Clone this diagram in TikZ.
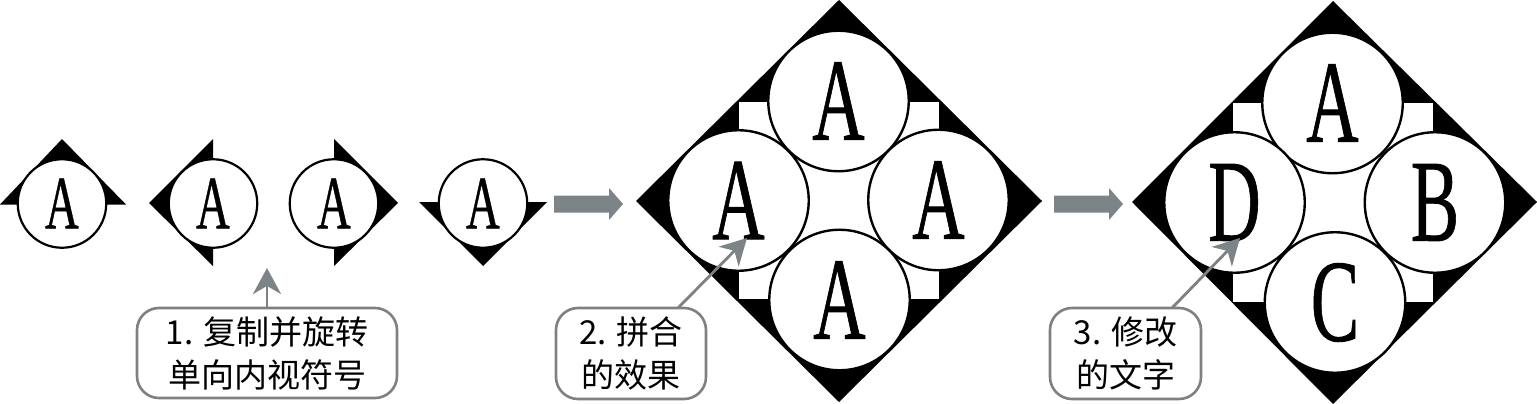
\documentclass[tikz,border=0pt]{standalone}
\usepackage{graphicx}
\usepackage{fontspec}
\setmainfont{Liberation Serif}
\newfontfamily\cjk{Noto Sans CJK SC}
\newfontfamily\letterfont[FakeBold=0.8]{Liberation Serif}
\usetikzlibrary{arrows.meta}
\newcommand{\narrow}[1]{\scalebox{.62}[1]{\letterfont #1}}
\newcommand{\calltext}[1]{\raisebox{-3pt}{#1}}
\definecolor{callgray}{HTML}{808080}
\definecolor{arrowgray}{HTML}{7C8488}
\tikzset{
  x=1pt,y=-1pt,
  smallcirc/.style={circle,draw=black,fill=white,line width=2.2pt,minimum size=88.5pt,inner sep=0pt,font=\fontsize{75}{75}\selectfont},
  bigcirc/.style={circle,draw=black,fill=white,line width=2.4pt,minimum size=140.5pt,inner sep=0pt,font=\fontsize{117}{117}\selectfont},
  callout/.style={draw=callgray,fill=white,line width=2.6pt,rounded corners=22pt,inner sep=0pt,align=center,font=\cjk\fontsize{33}{43}\selectfont},
  callarrow/.style={draw=callgray,line width=2.8pt,-{Stealth[length=26pt,width=28pt,inset=8pt,color=arrowgray]}},
  fatarrow/.pic={\fill[arrowgray] (0,-8.5) -- (55,-8.5) -- (55,-16) -- (69,0) -- (55,16) -- (55,8.5) -- (0,8.5) -- cycle;}
}
\begin{document}
\begin{tikzpicture}
\useasboundingbox (0,0) rectangle (1537,404);
% small symbols
\fill (0,204.5) -- (62,139) -- (126,204.5) -- cycle;
\node[smallcirc] (s1) at (62,203.5) {\narrow{A}};
\fill (213,139) -- (149,203) -- (213,266) -- cycle;
\node[smallcirc] (s2) at (213,203.5) {\narrow{A}};
\fill (334,139) -- (398,203) -- (334,266) -- cycle;
\node[smallcirc] (s3) at (334,203.5) {\narrow{A}};
\fill (419,202) -- (483,266) -- (547,202) -- cycle;
\node[smallcirc] (s4) at (483,203.5) {\narrow{A}};
% second diamond
\fill (839,0) -- (1042,201) -- (839,402) -- (636,201) -- cycle;
\fill[white] (739,102) rectangle (939,299);
\node[bigcirc] (a1) at (838.5,101) {\narrow{A}};
\node[bigcirc] (a2) at (938.5,200) {\narrow{A}};
\node[bigcirc] (a3) at (839.5,300) {\narrow{A}};
\node[bigcirc] (a4) at (738.5,200.5) {\narrow{A}};
% third diamond
\fill (1333,1) -- (1537,202) -- (1333,404) -- (1132,202) -- cycle;
\fill[white] (1233,103) rectangle (1433,302);
\node[bigcirc] (b1) at (1332.5,103) {\narrow{A}};
\node[bigcirc] (b2) at (1435,202.5) {\narrow{B}};
\node[bigcirc] (b3) at (1335,302.5) {\narrow{C}};
\node[bigcirc] (b4) at (1234.5,202.5) {\narrow{D}};
% fat arrows
\pic at (554,204) {fatarrow};
\pic at (1054,204) {fatarrow};
% callouts
\node[callout,minimum width=260pt,minimum height=90pt] (c1) at (267,353) {\calltext{1. 复制并旋转}\\\calltext{单向内视符号}};
\node[callout,minimum width=150pt,minimum height=91pt] (c2) at (631,353.5) {\calltext{2. 拼合}\\\calltext{的效果}};
\node[callout,minimum width=151pt,minimum height=91pt] (c3) at (1125.5,353.5) {\calltext{3. 修改}\\\calltext{的文字}};
\coordinate (t1) at (267,268);
\coordinate (t2) at (747,238);
\coordinate (t3) at (1240,238);
\coordinate (f2) at (678,308);
\coordinate (f3) at (1172,308);
\draw[callarrow] (c1.north) -- (t1);
\draw[callarrow] (f2) -- (t2);
\draw[callarrow] (f3) -- (t3);
\end{tikzpicture}
\end{document}
